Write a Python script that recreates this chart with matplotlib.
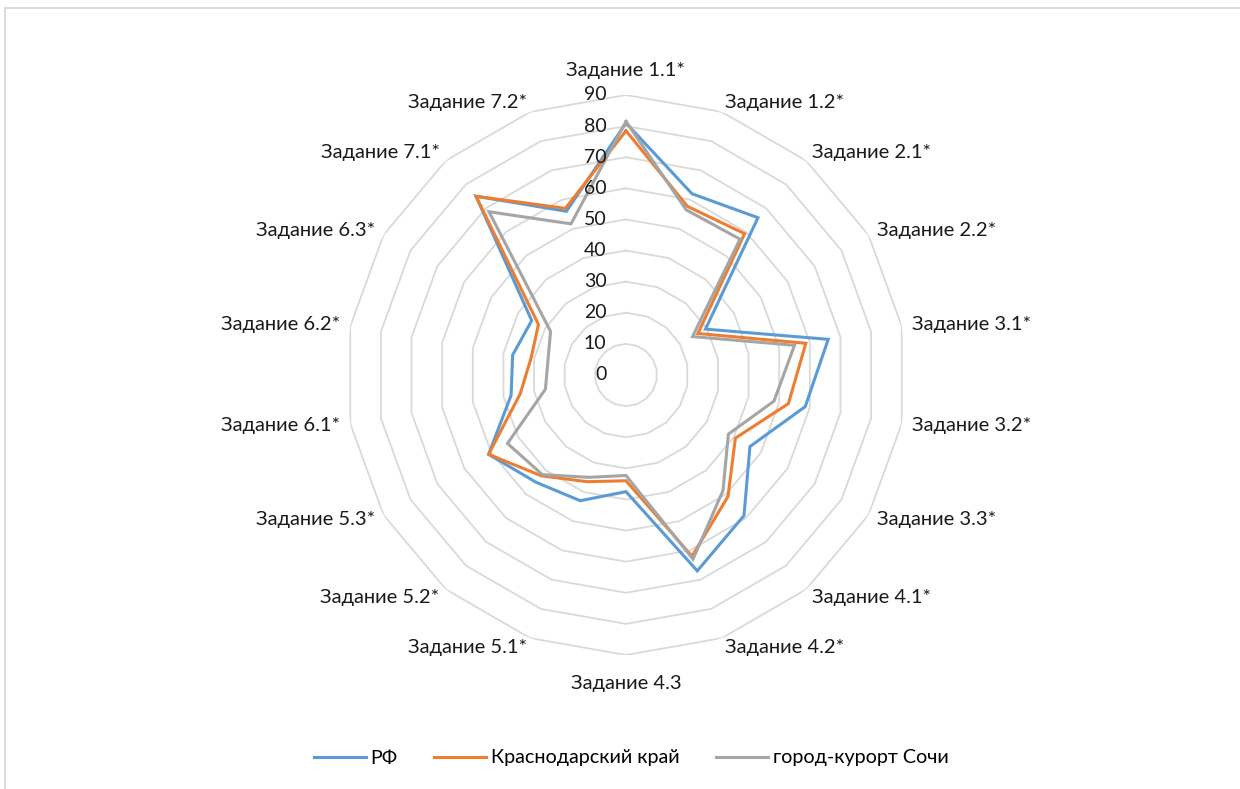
import numpy as np
import matplotlib
matplotlib.use("Agg")
import matplotlib.pyplot as plt
from matplotlib.lines import Line2D

categories = ['Задание 1.1*', 'Задание 1.2*', 'Задание 2.1*', 'Задание 2.2*',
              'Задание 3.1*', 'Задание 3.2*', 'Задание 3.3*', 'Задание 4.1*',
              'Задание 4.2*', 'Задание 4.3', 'Задание 5.1*', 'Задание 5.2*',
              'Задание 5.3*', 'Задание 6.1*', 'Задание 6.2*', 'Задание 6.3*',
              'Задание 7.1*', 'Задание 7.2*']
rf = [81, 62, 66, 29.5, 66, 58.5, 46, 59, 67, 37.5, 43, 45, 51, 37.5, 37, 35, 75, 56]
krasnodar = [78.5, 57.7, 59.3, 26.7, 58.7, 53, 40.6, 51, 62, 34, 36.5, 42.3, 51, 34.5, 31, 32.5, 75, 57]
sochi = [81.5, 56.5, 57, 24.7, 55, 48.3, 38, 48.5, 63, 32.3, 35, 41.8, 44, 26.3, 25.5, 28, 68.5, 51.7]
series_names = ['РФ', 'Краснодарский край', 'город-курорт Сочи']
series_colors = ['#5b9bd5', '#ed7d31', '#a5a5a5']
rticks = [0, 10, 20, 30, 40, 50, 60, 70, 80, 90]

plt.rcParams['font.family'] = ['Lato', 'DejaVu Sans']

W, H = 12.4, 7.89
fig = plt.figure(figsize=(W, H), dpi=100)
cx, cy, R = 626, 375, 280
ax = fig.add_axes([(cx - R) / 1240, (789 - cy - R) / 789, 2 * R / 1240, 2 * R / 789], projection='polar')
ax.set_theta_zero_location('N')
ax.set_theta_direction(-1)
ax.set_ylim(0, 90)
ax.grid(False)
ax.spines['polar'].set_visible(False)
ax.set_xticks([])
ax.set_yticks([])
ax.patch.set_alpha(0)

n = len(categories)
theta = np.arange(n) * 2 * np.pi / n
theta_c = np.append(theta, theta[0])

for v in rticks[1:]:
    ax.plot(theta_c, [v] * (n + 1), color='#d9d9d9', lw=1.3, zorder=1)

for vals, name, col in zip([rf, krasnodar, sochi], series_names, series_colors):
    ax.plot(theta_c, list(vals) + [vals[0]], color=col, lw=2.2, label=name, zorder=3,
            solid_joinstyle='miter')

for v in rticks:
    ax.annotate(str(v), xy=(0, v), xytext=(-14, 0), textcoords='offset points',
                ha='right', va='center', fontsize=14, color='#1a1a1a', zorder=4)

rlab = 93.2
for t, lab in zip(theta, categories):
    s = np.sin(t)
    c = np.cos(t)
    if abs(s) < 1e-6:
        ha = 'center'
        va = 'bottom' if c > 0 else 'top'
        r = 95.0 if c > 0 else 96.5
    else:
        ha = 'left' if s > 0 else 'right'
        va = 'center'
        r = rlab
    ax.text(t, r, lab, ha=ha, va=va, fontsize=14.5, color='#1a1a1a', clip_on=False)

handles = [Line2D([0], [0], color=c, lw=2.2) for c in series_colors]
fig.legend(handles, series_names, loc='center', bbox_to_anchor=(631 / 1240, 1 - 758 / 789),
           ncol=3, frameon=False, fontsize=14.2, handlelength=2.64, columnspacing=1.83,
           handletextpad=0.25)

fig.add_artist(Line2D([5 / 1240, 1], [1 - 8 / 789, 1 - 8 / 789], color='#d9d9d9', lw=1.3,
                      transform=fig.transFigure))
fig.add_artist(Line2D([5 / 1240, 5 / 1240], [0, 1 - 8 / 789], color='#d9d9d9', lw=1.3,
                      transform=fig.transFigure))

fig.savefig('out.png', dpi=100)
